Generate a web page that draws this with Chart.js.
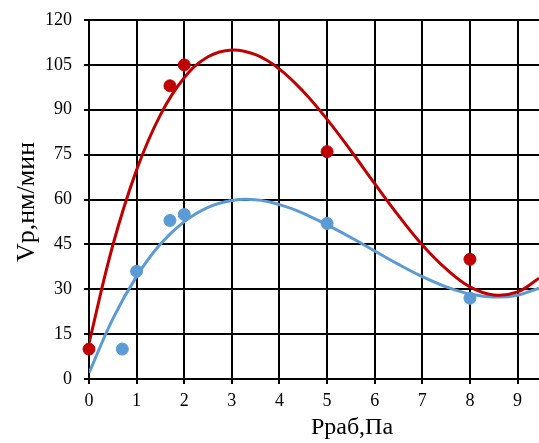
<!DOCTYPE html>
<html>
<head>
<meta charset="utf-8">
<script src="https://cdn.jsdelivr.net/npm/chart.js@4/dist/chart.umd.min.js"></script>
<style>
  html, body { margin: 0; padding: 0; background: #fff; }
  #wrap { width: 539px; height: 443px; }
</style>
</head>
<body>
<div id="wrap"><canvas id="chart" width="539" height="443"></canvas></div>
<script>
// measured points
const redX = [0, 1.7, 2, 5, 8];
const redY = [10, 98, 105, 76, 40];
const blueX = [0.7, 1, 1.7, 2, 5, 8];
const blueY = [10, 36, 53, 55, 52, 27];

// trend curves
const trendX = [0, 0.5, 1, 1.5, 2, 2.5, 3, 3.5, 4, 4.5, 5, 5.5, 6, 6.5, 7, 7.5, 8, 8.5, 9, 9.45];
const redTrend = [12, 44.7, 69.9, 88.3, 100.7, 107.7, 110, 108.4, 103.6, 96.1, 86.8, 76.3, 65.3, 54.6, 44.8, 36.8, 30.8, 28.1, 29.1, 33.7];
const blueTrend = [2, 20.1, 34.3, 45.1, 52.6, 57.4, 59.7, 59.9, 58.3, 55.4, 51.5, 47.3, 42.8, 38.3, 34.2, 30.8, 28.4, 27.4, 28, 30.4];

const xTicks = [0, 1, 2, 3, 4, 5, 6, 7, 8, 9];
const yTicks = [0, 15, 30, 45, 60, 75, 90, 105, 120];

const xTitle = 'Pраб,Па';
const yTitle = 'Vр,нм/мин';

const RED = '#C00000';
const BLUE = '#5B9BD5';
const FONT = "'Liberation Serif', 'Times New Roman', serif";

const pairs = (xs, ys) => xs.map((x, i) => ({ x: x, y: ys[i] }));

const axisTitles = {
    id: 'axisTitles',
    afterDraw(chart) {
        const ctx = chart.ctx;
        ctx.save();
        ctx.fillStyle = '#000';
        ctx.font = '24px ' + FONT;
        ctx.textAlign = 'center';
        ctx.textBaseline = 'alphabetic';
        ctx.fillText(xTitle, 352, 434);
        ctx.translate(34, 202);
        ctx.rotate(-Math.PI / 2);
        ctx.font = '26px ' + FONT;
        ctx.fillText(yTitle, 0, 0);
        ctx.restore();
    }
};

new Chart(document.getElementById('chart').getContext('2d'), {
    type: 'scatter',
    data: {
        datasets: [
            {
                data: pairs(redX, redY),
                backgroundColor: RED,
                borderColor: RED,
                pointRadius: 6,
                pointHoverRadius: 6,
                clip: false,
                order: 0
            },
            {
                data: pairs(blueX, blueY),
                backgroundColor: BLUE,
                borderColor: BLUE,
                pointRadius: 6,
                pointHoverRadius: 6,
                clip: false,
                order: 1
            },
            {
                data: pairs(trendX, redTrend),
                showLine: true,
                borderColor: RED,
                borderWidth: 3,
                pointRadius: 0,
                tension: 0.4,
                order: 2
            },
            {
                data: pairs(trendX, blueTrend),
                showLine: true,
                borderColor: BLUE,
                borderWidth: 3,
                pointRadius: 0,
                tension: 0.4,
                order: 3
            }
        ]
    },
    options: {
        responsive: false,
        animation: false,
        layout: { autoPadding: false, padding: { top: 20, right: 0, left: 0, bottom: 0 } },
        scales: {
            x: {
                type: 'linear',
                min: 0,
                max: 9.45,
                afterFit: (scale) => {
                    scale.height = 64;
                    scale.paddingLeft = 0;
                    scale.paddingRight = 0;
                },
                afterBuildTicks: (scale) => { scale.ticks = xTicks.map(v => ({ value: v })); },
                grid: { color: '#000', lineWidth: 2, tickLength: 5, tickColor: '#000' },
                border: { color: '#000', width: 2 },
                ticks: { color: '#000', font: { family: FONT, size: 18 }, padding: 6, maxRotation: 0 }
            },
            y: {
                min: 0,
                max: 120,
                afterFit: (scale) => {
                    scale.width = 89;
                    scale.paddingTop = 0;
                    scale.paddingBottom = 0;
                },
                afterBuildTicks: (scale) => { scale.ticks = yTicks.map(v => ({ value: v })); },
                grid: { color: '#000', lineWidth: 2, tickLength: 5, tickColor: '#000' },
                border: { color: '#000', width: 2 },
                ticks: { color: '#000', font: { family: FONT, size: 18 }, padding: 12 }
            }
        },
        plugins: {
            legend: { display: false },
            tooltip: { enabled: false }
        }
    },
    plugins: [axisTitles]
});
</script>
</body>
</html>
